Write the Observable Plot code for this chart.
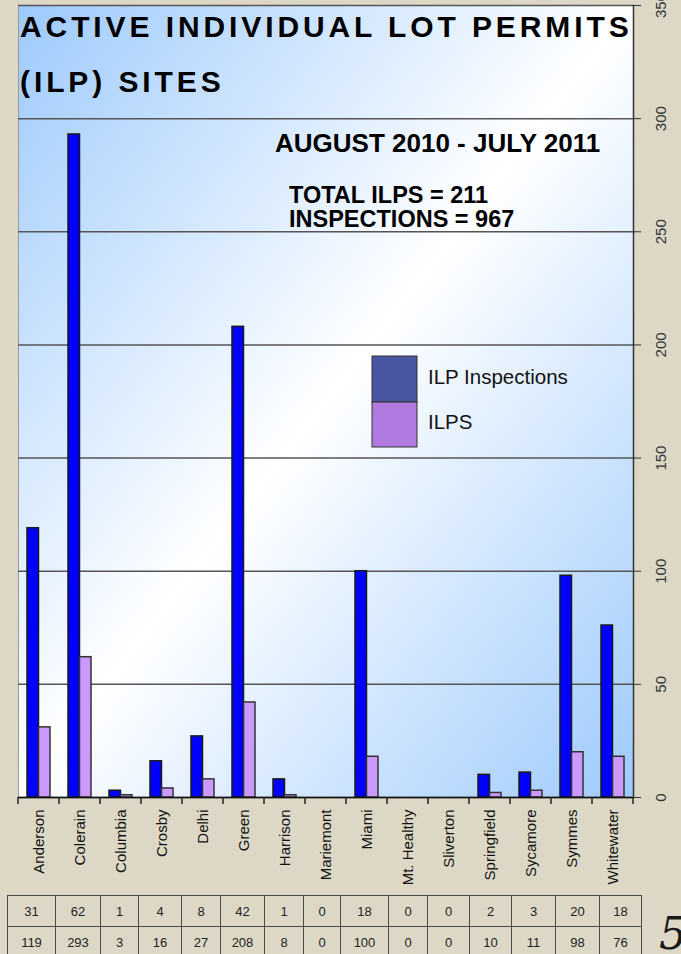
<!DOCTYPE html>
<html><head><meta charset="utf-8">
<script src="https://cdn.jsdelivr.net/npm/d3@7"></script>
<script src="https://cdn.jsdelivr.net/npm/@observablehq/plot@0.6"></script>
<style>
html,body{margin:0;padding:0;background:#ddd8c5;width:681px;height:954px;overflow:hidden;font-family:"Liberation Sans",Arial,sans-serif;}
#wrap{position:relative;width:681px;height:954px;}
#chart svg{display:block;}
#tbl{position:absolute;left:7px;top:895px;border-collapse:collapse;table-layout:fixed;}
#tbl td{border:1px solid #4a4a4a;height:30px;padding:0;text-align:center;font-size:13px;color:#222;font-family:"Liberation Sans",Arial,sans-serif;}
#mark5{position:absolute;left:659px;top:908px;font-family:"DejaVu Serif",serif;font-style:italic;font-size:44px;color:#1a1a1a;}
</style>
</head><body><div id="wrap"><div id="chart"></div><table id="tbl"></table><div id="mark5">5</div></div>
<script>
// ---- data ----
const categories = ["Anderson","Colerain","Columbia","Crosby","Delhi","Green","Harrison","Mariemont","Miami","Mt. Healthy","Sliverton","Springfield","Sycamore","Symmes","Whitewater"];
const ilps = [31,62,1,4,8,42,1,0,18,0,0,2,3,20,18];
const inspections = [119,293,3,16,27,208,8,0,100,0,0,10,11,98,76];
const yTicks = [0,50,100,150,200,250,300,350];
const seriesNames = ["ILP Inspections","ILPS"];
const titleLines = ["ACTIVE INDIVIDUAL LOT PERMITS","(ILP) SITES"];
const periodText = "AUGUST 2010 - JULY 2011";
const totalsText = ["TOTAL ILPS = 211","INSPECTIONS = 967"];

// ---- styles ----
const barColors = ["#0000ff","#cc99ff"];
const legendColors = ["#4a55a2","#b07ae0"];
const colWidths = [48,45,38,43,39,44,39,37,48,39,42,42,44,44,42];

const rows = categories.flatMap((c,i)=>[
  {cat:c, series:seriesNames[0], value:inspections[i]},
  {cat:c, series:seriesNames[1], value:ilps[i]}
]);

const defs = () => {
  const d = d3.create("svg:defs");
  const g = d.append("linearGradient").attr("id","panelGrad")
    .attr("x1",0).attr("y1",0).attr("x2",1).attr("y2",1);
  g.append("stop").attr("offset",0).attr("stop-color","#9dcafc");
  g.append("stop").attr("offset",0.5).attr("stop-color","#ffffff");
  g.append("stop").attr("offset",1).attr("stop-color","#9dcafc");
  return d.node();
};

const boundaryTicks = (index, scales) => {
  const x = scales.x;
  const bw = x.bandwidth ? x.bandwidth() : 41;
  const y0 = scales.y(0);
  const edges = categories.map(c => x(c)).concat([x(categories[categories.length-1]) + bw]);
  const g = d3.create("svg:g").attr("stroke","#222").attr("stroke-width",1.5);
  edges.forEach(e => g.append("line").attr("x1",e).attr("x2",e).attr("y1",y0).attr("y2",y0+7));
  return g.node();
};

const annotations = () => {
  const g = d3.create("svg:g").attr("font-family","'Liberation Sans',Arial,sans-serif")
    .attr("fill","#000").attr("text-anchor","start");
  g.append("text").attr("x",20).attr("y",37).attr("font-size",30).attr("font-weight","bold")
    .attr("letter-spacing","3.9px").text(titleLines[0]);
  g.append("text").attr("x",20).attr("y",92).attr("font-size",30).attr("font-weight","bold")
    .attr("letter-spacing","3.9px").text(titleLines[1]);
  g.append("text").attr("x",275).attr("y",152).attr("font-size",26).attr("font-weight","bold").text(periodText);
  g.append("text").attr("x",289).attr("y",203).attr("font-size",23.5).attr("font-weight","bold").text(totalsText[0]);
  g.append("text").attr("x",289).attr("y",227).attr("font-size",23.5).attr("font-weight","bold").text(totalsText[1]);
  // legend
  [[356,402,384],[402,447,429]].forEach(([t,b,ty],i)=>{
    g.append("rect").attr("x",372).attr("y",t).attr("width",45).attr("height",b-t)
      .attr("fill",legendColors[i]).attr("stroke","#333").attr("stroke-width",1);
    g.append("text").attr("x",428).attr("y",ty).attr("font-size",20.5).attr("fill","#111").text(seriesNames[i]);
  });
  return g.node();
};

const chart = Plot.plot({
  width: 681, height: 895,
  marginLeft: 18, marginRight: 48, marginTop: 5, marginBottom: 98,
  style: {background:"transparent", fontFamily:"'Liberation Sans',Arial,sans-serif", overflow:"visible"},
  x: {type:"band", domain: categories, padding: 0, axis: null},
  y: {domain:[0,350], axis: null},
  marks: [
    defs,
    Plot.frame({fill:"url(#panelGrad)", stroke:"#9a9a9a", strokeWidth:1}),
    Plot.gridY(yTicks, {stroke:"#555", strokeOpacity:1, strokeWidth:1.5}),
    Plot.barY(rows.filter(d=>d.series===seriesNames[0] && d.value>0),
      {x:"cat", y:"value", fill:barColors[0], stroke:"#1a1a1a", strokeWidth:1.5, insetLeft:9, insetRight:20.5}),
    Plot.barY(rows.filter(d=>d.series===seriesNames[1] && d.value>0),
      {x:"cat", y:"value", fill:barColors[1], stroke:"#333", strokeWidth:1.5, insetLeft:20.5, insetRight:9}),
    Plot.ruleY([0], {stroke:"#111", strokeWidth:1.5}),
    Plot.frame({anchor:"right", stroke:"#333", strokeWidth:1.5}),
    Plot.axisY(yTicks, {anchor:"right", tickSize:7, tickFormat:()=>"", color:"#333", label:null}),
    Plot.text(yTicks, {y:d=>d, frameAnchor:"right", dx:28, rotate:-90, text:d=>String(d), fontSize:15, fill:"#333", textAnchor:"middle"}),
    Plot.axisX({anchor:"bottom", tickSize:0, tickRotate:-90, tickPadding:12, fontSize:15, color:"#111", label:null}),
    boundaryTicks,
    annotations
  ]
});
document.getElementById("chart").appendChild(chart);

// data table
const tbl = d3.select("#tbl");
const cg = tbl.append("colgroup");
colWidths.forEach(w => cg.append("col").style("width", w + "px"));
[ilps, inspections].forEach(arr => {
  const tr = tbl.append("tr");
  arr.forEach(v => tr.append("td").text(v));
});
</script>
</body></html>
